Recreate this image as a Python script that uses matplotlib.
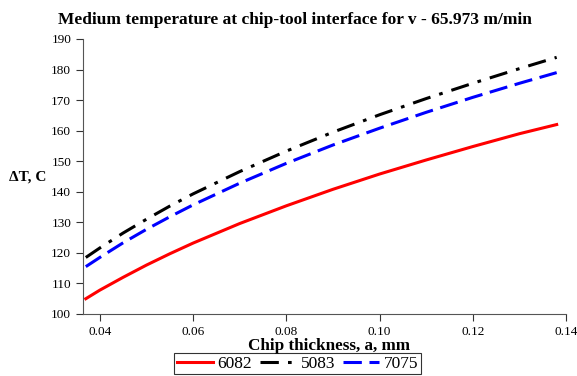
import matplotlib
matplotlib.use("Agg")
import matplotlib.pyplot as plt

plt.rcParams["font.family"] = ["Liberation Serif", "DejaVu Serif"]

# chip thickness, mm
chip = [0.037, 0.04, 0.045, 0.05, 0.055, 0.06, 0.07, 0.08, 0.09, 0.10, 0.11, 0.12, 0.13, 0.138]

# temperature rise, C
t_6082 = [105.0, 107.8, 112.0, 116.0, 119.7, 123.2, 129.6, 135.4, 140.8, 145.8, 150.4, 154.8, 159.0, 162.0]
t_5083 = [118.5, 121.6, 126.5, 131.0, 135.3, 139.3, 146.6, 153.3, 159.5, 165.2, 170.5, 175.5, 180.3, 184.0]
t_7075 = [115.5, 118.5, 123.3, 127.7, 131.8, 135.7, 142.8, 149.3, 155.3, 160.8, 166.0, 170.9, 175.5, 179.0]

xticks = [0.04, 0.06, 0.08, 0.10, 0.12, 0.14]
yticks = [100, 110, 120, 130, 140, 150, 160, 170, 180, 190]

fig = plt.figure(figsize=(5.77, 3.76), dpi=100)
ax = fig.add_axes([83/577, 62/376, 483/577, 275/376])

ax.plot(chip, t_6082, color="red", lw=2.2, label="6082")
ax.plot(chip, t_5083, color="black", lw=2.2, dashes=(6, 3, 1.2, 3), label="5083")
ax.plot(chip, t_7075, color="blue", lw=2.2, dashes=(6, 2.5), label="7075")

ax.set_xlim(0.0364, 0.14)
ax.set_ylim(100, 190)
ax.set_xticks(xticks)
ax.set_xticklabels(["%.2f" % v for v in xticks])
ax.set_yticks(yticks)
ax.tick_params(labelsize=9.5, length=5, width=0.8, colors="#333333", labelcolor="black")
for s in ["top", "right"]:
    ax.spines[s].set_visible(False)
for s in ["left", "bottom"]:
    ax.spines[s].set_color("#555555")

fig.text(295/577, 1 - 20/376, "Medium temperature at chip-tool interface for v - 65.973 m/min",
         ha="center", va="center", fontsize=12.5, fontweight="bold")
fig.text(28/577, 1 - 177/376, "ΔT, C", ha="center", va="center", fontsize=11, fontweight="bold")
fig.text(329/577, 1 - 346/376, "Chip thickness, a, mm", ha="center", va="center",
         fontsize=12.3, fontweight="bold")

leg = fig.legend(loc="upper left", bbox_to_anchor=(174/577, 1 - 353/376), ncol=3, fontsize=12.5,
                 frameon=True, fancybox=False, edgecolor="black", handlelength=2.1,
                 handletextpad=0.25, columnspacing=0.45, borderpad=0.15, borderaxespad=0)
leg.get_frame().set_linewidth(0.8)

fig.savefig("out.png", dpi=100)
